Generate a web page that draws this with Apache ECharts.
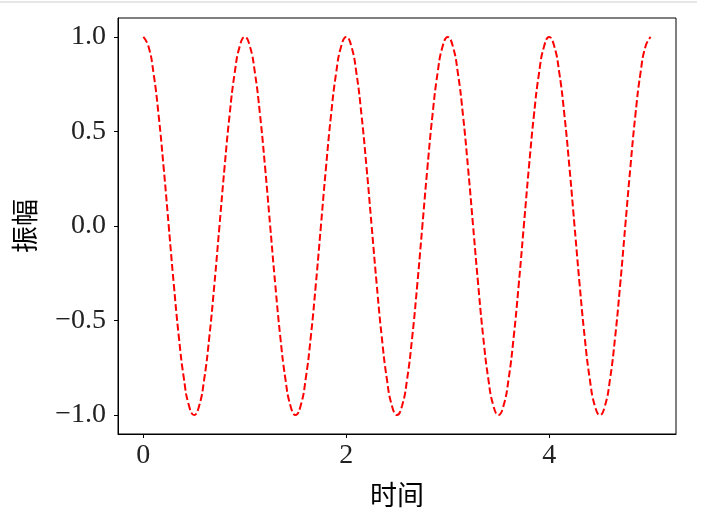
<!DOCTYPE html>
<html><head><meta charset="utf-8">
<script src="https://cdn.jsdelivr.net/npm/echarts@6/dist/echarts.min.js"></script>
<style>html,body{margin:0;padding:0;background:#fff}#c{width:705px;height:515px}</style>
</head><body><div id="c"></div>
<script>
const times = [0,0.05,0.1,0.15,0.2,0.25,0.3,0.35,0.4,0.45,0.5,0.55,0.6,0.65,0.7,0.75,0.8,0.85,0.9,0.95,
1,1.05,1.1,1.15,1.2,1.25,1.3,1.35,1.4,1.45,1.5,1.55,1.6,1.65,1.7,1.75,1.8,1.85,1.9,1.95,
2,2.05,2.1,2.15,2.2,2.25,2.3,2.35,2.4,2.45,2.5,2.55,2.6,2.65,2.7,2.75,2.8,2.85,2.9,2.95,
3,3.05,3.1,3.15,3.2,3.25,3.3,3.35,3.4,3.45,3.5,3.55,3.6,3.65,3.7,3.75,3.8,3.85,3.9,3.95,
4,4.05,4.1,4.15,4.2,4.25,4.3,4.35,4.4,4.45,4.5,4.55,4.6,4.65,4.7,4.75,4.8,4.85,4.9,4.95,5];
const amplitude = [1,0.951,0.809,0.588,0.309,0,-0.309,-0.588,-0.809,-0.951,-1,-0.951,-0.809,-0.588,-0.309,0,0.309,0.588,0.809,0.951,
1,0.951,0.809,0.588,0.309,0,-0.309,-0.588,-0.809,-0.951,-1,-0.951,-0.809,-0.588,-0.309,0,0.309,0.588,0.809,0.951,
1,0.951,0.809,0.588,0.309,0,-0.309,-0.588,-0.809,-0.951,-1,-0.951,-0.809,-0.588,-0.309,0,0.309,0.588,0.809,0.951,
1,0.951,0.809,0.588,0.309,0,-0.309,-0.588,-0.809,-0.951,-1,-0.951,-0.809,-0.588,-0.309,0,0.309,0.588,0.809,0.951,
1,0.951,0.809,0.588,0.309,0,-0.309,-0.588,-0.809,-0.951,-1,-0.951,-0.809,-0.588,-0.309,0,0.309,0.588,0.809,0.951,1];
const xTicks = [0, 2, 4];
const yTicks = [-1, -0.5, 0, 0.5, 1];
const xTitle = '时间';
const yTitle = '振幅';

const serif = '"Liberation Serif","DejaVu Serif",serif';
const cjk = '"Noto Sans CJK SC",sans-serif';
const fmtY = v => (v < 0 ? '\u2212' : '') + Math.abs(v).toFixed(1);

const chart = echarts.init(document.getElementById('c'), null, {renderer: 'canvas'});
chart.setOption({
  animation: false,
  backgroundColor: '#fff',
  graphic: [{type: 'line', shape: {x1: 0, y1: 2, x2: 697, y2: 2}, style: {stroke: '#e6e6e6', lineWidth: 2}}],
  grid: {left: 118, top: 18, width: 558, height: 416, show: true, borderColor: '#000', borderWidth: 1, backgroundColor: 'transparent'},
  xAxis: {
    type: 'value', min: -0.25, max: 5.25,
    name: xTitle, nameLocation: 'middle', nameGap: 47,
    nameTextStyle: {fontFamily: cjk, fontSize: 27, color: '#000'},
    axisLine: {show: true, onZero: false, lineStyle: {color: '#000', width: 1}},
    axisTick: {show: true, length: 4, inside: false, customValues: xTicks, lineStyle: {color: '#000'}},
    axisLabel: {customValues: xTicks, fontFamily: serif, fontSize: 28, color: '#222', margin: 8, formatter: v => String(v)},
    splitLine: {show: false}
  },
  yAxis: {
    type: 'value', min: -1.1, max: 1.1,
    name: yTitle, nameLocation: 'middle', nameGap: 80, nameRotate: 90,
    nameTextStyle: {fontFamily: cjk, fontSize: 27, color: '#000'},
    axisLine: {show: true, onZero: false, lineStyle: {color: '#000', width: 1}},
    axisTick: {show: true, length: 4, inside: false, customValues: yTicks, lineStyle: {color: '#000'}},
    axisLabel: {customValues: yTicks, fontFamily: serif, fontSize: 28, color: '#222', margin: 12, formatter: fmtY},
    splitLine: {show: false}
  },
  series: [{
    type: 'line', smooth: true, symbol: 'none',
    data: times.map((t, i) => [t, amplitude[i]]),
    lineStyle: {color: '#ff0000', width: 2, type: [7, 3]}
  }]
});
</script></body></html>
